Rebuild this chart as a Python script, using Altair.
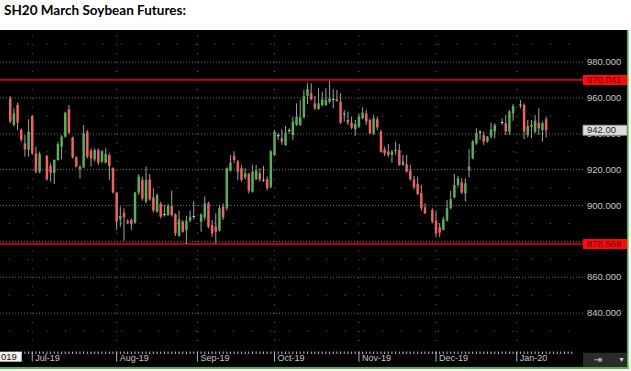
import altair as alt
import pandas as pd

# ---------------- data ----------------
title_text = "SH20 March Soybean Futures:"
holidays = ["2019-07-04", "2019-09-02", "2019-11-28", "2019-12-25", "2020-01-01"]
first_day, last_day = "2019-06-21", "2020-01-13"

opens = [959.8, 944.9, 956.1, 942.1, 934.7, 931.0, 949.9, 929.1, 918.9, 927.6,
         922.1, 918.3, 925.4, 932.8, 938.4, 953.7, 938.0, 926.9, 920.6, 921.3,
         941.2, 930.6, 925.8, 931.0, 924.5, 923.9, 928.2, 920.8, 907.2, 892.3,
         896.0, 891.2, 891.9, 890.5, 907.2, 914.3, 902.2, 914.6, 904.6, 896.6,
         900.9, 895.3, 894.7, 899.8, 895.1, 883.0, 891.0, 886.4, 891.6, 893.6,
         891.0, 893.4, 901.2, 889.2, 888.2, 886.0, 899.4, 898.5, 919.5, 927.6,
         924.5, 920.8, 915.7, 917.6, 907.7, 914.6, 918.0, 914.4, 914.6, 910.5,
         928.2, 938.6, 937.5, 933.8, 941.6, 939.3, 944.9, 944.9, 949.2, 961.1,
         962.6, 957.0, 953.8, 956.1, 956.1, 957.9, 959.4, 959.2, 957.9, 950.9,
         947.7, 946.2, 942.7, 944.0, 948.6, 951.4, 947.7, 940.3, 948.1, 941.2,
         931.4, 930.1, 928.2, 930.6, 931.0, 922.6, 923.0, 919.5, 914.6, 912.0,
         906.8, 899.0, 897.5, 891.6, 887.9, 886.4, 891.6, 898.5, 904.6, 911.5,
         912.8, 906.8, 919.5, 926.3, 934.7, 940.6, 939.3, 935.6, 938.4, 941.2,
         946.0, 945.9, 941.2, 951.4, 955.8, 956.1, 939.3, 944.9, 941.2, 946.2,
         942.1, 948.1]
highs = [961.1, 954.2, 957.4, 943.1, 939.3, 948.1, 950.5, 932.8, 930.1, 928.2,
         923.5, 925.8, 935.6, 939.3, 952.4, 956.1, 938.4, 927.6, 922.6, 944.9,
         942.1, 931.9, 931.9, 931.9, 931.0, 931.9, 929.1, 921.3, 907.7, 899.4,
         898.5, 892.3, 892.9, 907.7, 917.6, 916.1, 921.7, 917.6, 909.6, 906.8,
         902.2, 900.3, 900.9, 908.3, 895.7, 897.2, 891.9, 894.2, 897.2, 902.7,
         895.7, 905.0, 902.2, 891.9, 895.7, 900.3, 901.2, 921.3, 928.2, 930.1,
         925.4, 922.6, 920.8, 918.3, 922.6, 922.6, 920.8, 922.1, 916.1, 931.0,
         942.1, 940.3, 942.5, 944.4, 943.1, 949.6, 957.0, 958.9, 964.4, 968.2,
         968.2, 961.1, 965.4, 963.5, 965.4, 969.6, 964.8, 964.4, 962.6, 953.3,
         952.4, 949.6, 947.7, 951.4, 954.8, 953.3, 948.6, 950.5, 949.6, 942.1,
         932.8, 934.3, 931.0, 935.6, 934.3, 928.2, 928.2, 922.6, 916.5, 916.1,
         911.5, 901.2, 898.5, 897.1, 890.1, 893.8, 903.1, 908.3, 917.6, 916.5,
         915.2, 915.2, 931.4, 936.6, 943.1, 942.1, 941.2, 938.8, 946.2, 945.9,
         948.6, 950.5, 953.3, 956.6, 958.9, 957.0, 947.7, 947.7, 950.5, 954.2,
         946.8, 949.6]
lows = [945.9, 944.0, 942.1, 935.6, 927.3, 927.3, 928.2, 918.0, 918.0, 913.9,
        913.3, 912.0, 925.0, 925.8, 938.0, 939.9, 926.3, 921.3, 915.2, 920.8,
        926.3, 921.7, 924.5, 922.6, 923.5, 923.5, 914.3, 906.8, 886.4, 888.2,
        880.4, 889.7, 886.4, 889.7, 905.9, 902.7, 901.2, 902.7, 896.0, 896.0,
        892.9, 893.8, 894.2, 893.8, 883.0, 882.6, 884.9, 878.6, 890.5, 892.3,
        885.4, 891.9, 887.3, 882.6, 878.9, 885.4, 891.9, 897.2, 918.9, 923.5,
        914.3, 913.3, 914.6, 906.8, 907.2, 914.3, 913.3, 913.3, 908.3, 909.6,
        927.6, 936.6, 933.8, 933.2, 940.3, 936.6, 944.4, 944.4, 948.6, 956.5,
        958.5, 953.3, 953.3, 955.2, 955.5, 957.0, 954.2, 957.9, 945.5, 946.8,
        944.9, 942.5, 938.8, 943.1, 948.1, 944.9, 939.9, 939.3, 942.1, 929.5,
        927.6, 926.9, 923.9, 928.2, 922.1, 922.1, 918.3, 913.9, 909.0, 905.9,
        897.1, 895.3, 890.1, 882.3, 882.3, 886.0, 891.0, 897.9, 904.0, 910.5,
        906.4, 902.2, 915.7, 925.8, 933.8, 936.6, 933.8, 935.1, 937.5, 937.5,
        944.9, 939.3, 939.3, 947.3, 954.2, 936.9, 938.0, 937.5, 940.3, 939.3,
        935.6, 938.0]
closes = [946.8, 951.4, 946.2, 936.6, 931.4, 941.2, 929.1, 918.9, 928.7, 914.6,
          918.3, 925.4, 934.3, 938.4, 951.8, 940.6, 926.9, 921.7, 921.3, 940.3,
          927.3, 926.3, 931.0, 923.9, 930.1, 928.7, 922.1, 907.2, 891.0, 894.2,
          893.4, 890.1, 889.7, 907.2, 916.1, 904.0, 914.3, 903.5, 897.2, 905.9,
          893.8, 894.7, 899.8, 894.7, 884.5, 892.3, 885.4, 891.6, 893.8, 894.2,
          895.1, 901.2, 888.2, 884.5, 885.4, 898.5, 893.4, 920.8, 923.9, 925.4,
          918.9, 914.3, 918.0, 908.3, 918.9, 919.5, 914.6, 913.9, 909.6, 930.1,
          941.2, 939.3, 935.6, 940.6, 942.1, 946.8, 949.6, 949.2, 961.1, 964.9,
          959.2, 954.2, 957.0, 959.2, 958.9, 959.8, 958.9, 958.3, 946.2, 951.4,
          946.2, 943.4, 945.5, 949.6, 951.8, 946.8, 940.3, 948.6, 943.6, 930.0,
          929.0, 928.2, 930.1, 930.9, 922.6, 924.5, 918.9, 914.6, 910.2, 906.4,
          898.5, 895.7, 891.0, 884.5, 884.9, 892.3, 898.5, 903.5, 911.5, 915.2,
          907.2, 912.4, 921.7, 935.6, 940.3, 941.2, 935.6, 938.4, 942.5, 944.9,
          946.6, 941.2, 952.4, 955.5, 956.3, 941.2, 944.4, 944.0, 947.3, 943.1,
          945.9, 942.0]

level_lines = [970.041, 878.568]
major_levels = [840, 860, 880, 900, 920, 940, 960, 980]
axis_labels = [840, 860, 900, 920, 940, 960, 980]   # 880 sits under the 878.568 box
minor_levels = [830, 850, 870, 890, 910, 930, 950, 970, 990]
month_starts = ["2019-07-01", "2019-08-01", "2019-09-02", "2019-10-01",
                "2019-11-01", "2019-12-02", "2020-01-01"]
month_labels = ["Jul-19", "Aug-19", "Sep-19", "Oct-19", "Nov-19", "Dec-19", "Jan-20"]
year_label = "019"

# --------------- tables ----------------
weekdays = pd.bdate_range(first_day, "2020-02-14")
wd_str = [d.strftime("%Y-%m-%d") for d in weekdays]
last_i = wd_str.index(last_day)
trade_w = [i for i, d in enumerate(wd_str[:last_i + 1]) if d not in holidays]
month_w = [wd_str.index(m) for m in month_starts]

df = pd.DataFrame({"w": trade_w, "open": opens, "high": highs, "low": lows, "close": closes})
df["dir"] = ["up" if c - o > 0.85 else ("down" if o - c > 0.85 else "flat")
             for o, c in zip(df["open"], df["close"])]

W, H = 627, 337
xs = alt.Scale(domain=[-1.426, 166.67], nice=False, zero=False)
ys = alt.Scale(domain=[809.95, 997.90], nice=False, zero=False)
GREY = "#c8c8c8"
FONT = "Liberation Sans"
X = lambda f: alt.X(f, scale=xs, axis=None)
Y = lambda f: alt.Y(f, scale=ys, axis=None)

# ---- gridlines ----
major = alt.Chart(pd.DataFrame({"p": major_levels})).mark_rule(
    color="#6e6e6e", strokeDash=[1, 2], strokeWidth=1
).encode(y=Y("p:Q"), x=alt.value(0), x2=alt.value(583))

minor = alt.Chart(pd.DataFrame({"p": minor_levels})).mark_rule(
    color="#6e6e6e", strokeDash=[1, 17.65], strokeDashOffset=9.6, strokeWidth=1
).encode(y=Y("p:Q"), x=alt.value(0), x2=alt.value(583))

vgrid = alt.Chart(pd.DataFrame({"w": month_w})).mark_rule(
    color="#6e6e6e", strokeDash=[1, 7.965], strokeDashOffset=3.77, strokeWidth=1
).encode(x=X("w:Q"), y=alt.value(0), y2=alt.value(316))

# ---- right price axis labels ----
ylab = alt.Chart(pd.DataFrame({"p": axis_labels,
                               "t": ["%.3f" % v for v in axis_labels]})).mark_text(
    align="left", baseline="middle", font=FONT, fontSize=9.5, color=GREY
).encode(y=Y("p:Q"), x=alt.value(587), text="t:N")

# ---- bottom date axis: daily ticks, month ticks and labels ----
day_ticks = alt.Chart(pd.DataFrame({"w": list(range(0, last_i + 8))})).transform_filter(
    "datum.w <= 154"
).mark_rule(color="#bdbdbd", strokeWidth=1).encode(
    x=X("w:Q"), y=alt.value(321.5), y2=alt.value(324))

month_ticks = alt.Chart(pd.DataFrame({"w": month_w})).mark_rule(
    color="#b5b5b5", strokeWidth=1
).encode(x=X("w:Q"), y=alt.value(321.5), y2=alt.value(331.5))

xlab = alt.Chart(pd.DataFrame({"w": month_w, "t": month_labels})).mark_text(
    align="left", baseline="middle", font=FONT, fontSize=9, color=GREY, dx=3
).encode(x=X("w:Q"), y=alt.value(328.3), text="t:N")

# ---- levels ----
red_lines = alt.Chart(pd.DataFrame({"p": level_lines})).mark_rule(
    color="#d40000", strokeWidth=1.8
).encode(y=Y("p:Q"), x=alt.value(0), x2=alt.value(583))

# ---- candles ----
wicks = alt.Chart(df).mark_rule(color="#a0a0a0", strokeWidth=1).encode(
    x=X("w:Q"), y=Y("low:Q"), y2="high:Q")

bodies = alt.Chart(df).mark_bar(size=2.5).encode(
    x=X("w:Q"), y=Y("open:Q"), y2="close:Q",
    color=alt.Color("dir:N", legend=None, scale=alt.Scale(
        domain=["up", "down", "flat"], range=["#5aae5a", "#f06262", "#cfcfcf"])),
)

# ---- price boxes on the axis ----
lvl_df = pd.DataFrame({"p": level_lines, "t": ["%.3f" % v for v in level_lines]})
red_box = alt.Chart(lvl_df).mark_tick(
    orient="horizontal", size=44, thickness=10, color="#ff0a0a", opacity=1
).encode(y=Y("p:Q"), x=alt.value(605))
red_txt = alt.Chart(lvl_df).mark_text(
    align="left", baseline="middle", font=FONT, fontSize=9.5, color="#5a0000"
).encode(y=Y("p:Q"), x=alt.value(587), text="t:N")

last_df = pd.DataFrame({"p": [closes[-1]], "t": ["%.2f" % closes[-1]]})
last_box = alt.Chart(last_df).mark_tick(
    orient="horizontal", size=44, thickness=10, color="#dcdcdc", opacity=1,
    stroke="#9a9a9a", strokeWidth=0.8
).encode(y=Y("p:Q"), x=alt.value(605))
last_txt = alt.Chart(last_df).mark_text(
    align="left", baseline="middle", font=FONT, fontSize=9.5, color="#1e1e1e"
).encode(y=Y("p:Q"), x=alt.value(587), text="t:N")

# ---- decorations ----
one = pd.DataFrame({"a": [0]})
year_box = alt.Chart(one).mark_rect(color="#f2f2f2").encode(
    x=alt.value(0), x2=alt.value(21.7), y=alt.value(321.7), y2=alt.value(331.7))
year_txt = alt.Chart(pd.DataFrame({"t": [year_label]})).mark_text(
    align="left", baseline="middle", font=FONT, fontSize=9.5, color="#111111"
).encode(x=alt.value(1), y=alt.value(327), text="t:N")

ctrl_box = alt.Chart(one).mark_rect(color="#2a2a2a").encode(
    x=alt.value(583), x2=alt.value(627), y=alt.value(322.7), y2=alt.value(337))
ctrl_icon = alt.Chart(pd.DataFrame({"t": ["\u21e5"]})).mark_text(
    align="center", baseline="middle", font="DejaVu Sans", fontSize=10, color="#d8d8d8"
).encode(x=alt.value(598), y=alt.value(330), text="t:N")
ctrl_arrow = alt.Chart(pd.DataFrame({"t": ["\u25be"]})).mark_text(
    align="center", baseline="middle", font="DejaVu Sans", fontSize=8, color="#cfcfcf"
).encode(x=alt.value(621.5), y=alt.value(330), text="t:N")

green_r = alt.Chart(one).mark_rule(color="#4cb82e", strokeWidth=1.6).encode(
    x=alt.value(627.8), y=alt.value(0), y2=alt.value(339))
green_b = alt.Chart(one).mark_rule(color="#4cb82e", strokeWidth=2).encode(
    x=alt.value(0), x2=alt.value(628.6), y=alt.value(338))

title = alt.Chart(pd.DataFrame({"t": [title_text]})).mark_text(
    align="left", baseline="alphabetic", font="Lato", fontSize=13.5,
    fontWeight="bold", color="#000000"
).encode(x=alt.value(4), y=alt.value(-15), text="t:N")

chart = alt.layer(
    major, vgrid, minor, red_lines, wicks, bodies, ylab,
    day_ticks, month_ticks, xlab,
    red_box, red_txt, last_box, last_txt, year_box, year_txt,
    ctrl_box, ctrl_icon, ctrl_arrow, green_r, green_b, title
).properties(
    width=W, height=H, autosize="none",
    padding={"left": 0, "top": 30, "right": 4, "bottom": 4},
    background="white",
).configure_view(fill="black", stroke=None)

chart.save("out.html", embed_options={"renderer": "svg", "actions": False})
